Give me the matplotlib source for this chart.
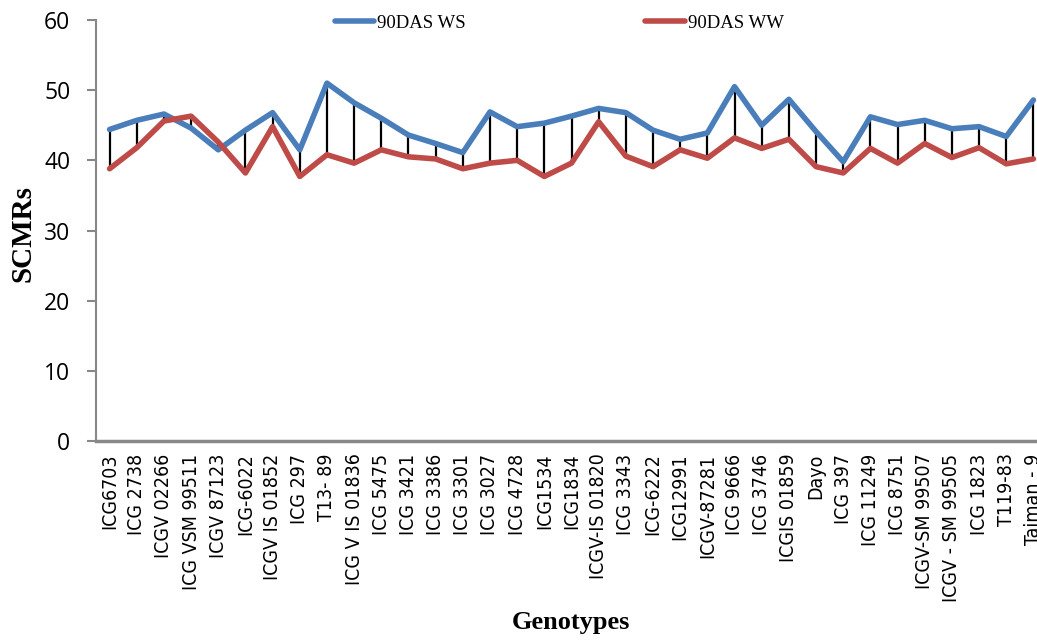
import matplotlib
matplotlib.use("Agg")
import matplotlib.pyplot as plt
import numpy as np

genotypes = [
    "ICG6703", "ICG 2738", "ICGV 02266", "ICG VSM 99511", "ICGV 87123",
    "ICG-6022", "ICGV IS 01852", "ICG 297", "T13- 89", "ICG V IS 01836",
    "ICG 5475", "ICG 3421", "ICG 3386", "ICG 3301", "ICG 3027", "ICG 4728",
    "ICG1534", "ICG1834", "ICGV-IS 01820", "ICG 3343", "ICG-6222", "ICG12991",
    "ICGV-87281", "ICG 9666", "ICG 3746", "ICGIS 01859", "Dayo", "ICG 397",
    "ICG 11249", "ICG 8751", "ICGV-SM 99507", "ICGV - SM 99505", "ICG 1823",
    "T119-83", "Taiman - 9",
]

ws_90das = [
    44.4, 45.7, 46.6, 44.6, 41.5, 44.3, 46.8, 41.5, 51.0, 48.2,
    46.0, 43.6, 42.4, 41.1, 46.9, 44.8, 45.3, 46.3, 47.4, 46.8,
    44.3, 43.0, 43.9, 50.5, 45.0, 48.7, 44.1, 39.8, 46.2, 45.1,
    45.7, 44.5, 44.8, 43.4, 48.6,
]

ww_90das = [
    38.8, 41.8, 45.6, 46.3, 42.6, 38.2, 44.8, 37.7, 40.8, 39.6,
    41.5, 40.5, 40.2, 38.8, 39.6, 40.0, 37.7, 39.6, 45.5, 40.6,
    39.1, 41.5, 40.3, 43.2, 41.7, 43.0, 39.1, 38.2, 41.7, 39.6,
    42.4, 40.4, 41.8, 39.5, 40.2,
]

serif = ["Liberation Serif", "DejaVu Serif"]
tickfont = ["Open Sans", "DejaVu Sans"]

fig = plt.figure(figsize=(10.37, 6.4), dpi=100)
ax = fig.add_axes([96 / 1037, 199 / 640, 951 / 1037, 421 / 640])

x = np.arange(len(genotypes))

# high-low lines between the two series
ax.vlines(x, np.minimum(ws_90das, ww_90das), np.maximum(ws_90das, ww_90das),
          color="black", linewidth=1.6, zorder=1)

ax.plot(x, ws_90das, color="#4a7ebb", linewidth=4, solid_capstyle="round",
        solid_joinstyle="round", label="90DAS WS", zorder=2)
ax.plot(x, ww_90das, color="#be4b48", linewidth=4, solid_capstyle="round",
        solid_joinstyle="round", label="90DAS WW", zorder=2)

ax.set_xlim(-0.5, len(genotypes) - 0.5)
ax.set_ylim(0, 60)
ax.set_yticks(range(0, 61, 10))
ax.set_xticks(x)
ax.set_xticklabels(genotypes, rotation=90, family="DejaVu Sans",
                   stretch="condensed", fontsize=14)

for lbl in ax.get_yticklabels():
    lbl.set_family(tickfont)
    lbl.set_fontsize(16.5)

ax.tick_params(axis="y", direction="out", length=6.5, width=1.5, color="#888888", pad=12)
ax.tick_params(axis="x", length=0, pad=9)

for side in ["top", "right"]:
    ax.spines[side].set_visible(False)
ax.spines["left"].set_color("#888888")
ax.spines["left"].set_linewidth(1.5)
ax.spines["bottom"].set_color("#888888")
ax.spines["bottom"].set_linewidth(2.5)

fig.text(23 / 1037, 1 - 233 / 640, "SCMRs", family=serif, fontsize=21,
         fontweight="bold", rotation=90, ha="center", va="center")
fig.text(571 / 1037, 17 / 640, "Genotypes", family=serif, fontsize=19,
         fontweight="bold", ha="center", va="center")

leg = fig.legend(loc="center", bbox_to_anchor=(559 / 1037, 1 - 23 / 640), ncol=2,
                 frameon=False, prop={"family": serif, "size": 13.5},
                 handlelength=2.1, handletextpad=0.15, columnspacing=9.6)

fig.savefig("out.png", dpi=100, facecolor="white")
